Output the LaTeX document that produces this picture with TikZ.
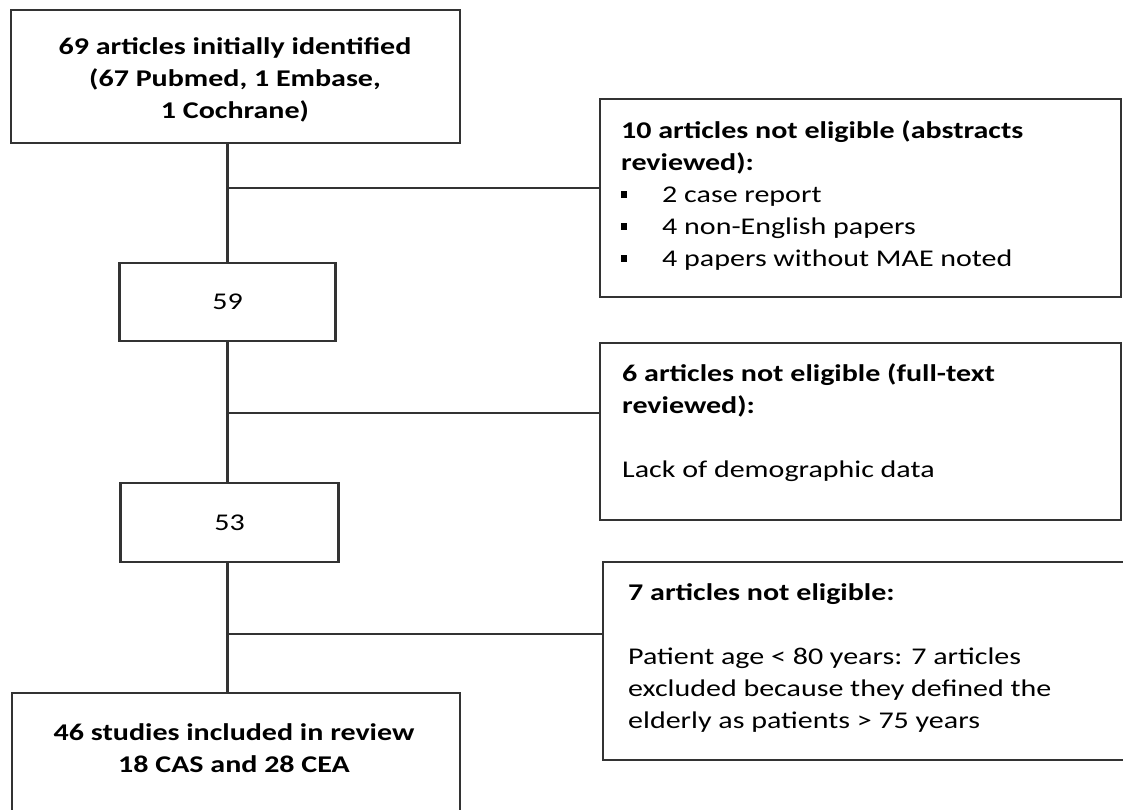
\documentclass[tikz,border=0pt]{standalone}
\usepackage{fontspec}
\setmainfont{Carlito}
\newfontfamily\flowfont[FakeStretch=1.25]{Carlito}
\usetikzlibrary{positioning}
\newcommand{\sqbul}{\makebox[41pt][l]{\rule[4pt]{6pt}{7pt}}}

\begin{document}
\begin{tikzpicture}[x=1pt,y=1pt]
\tikzstyle{every node}+=[inner sep=0pt]
\tikzstyle{box}=[draw=black!80, line width=2.8pt, rectangle]
\tikzstyle{link}=[draw=black!80, line width=2.5pt]
\tikzstyle{txt}=[anchor=north west, align=left, font=\fontsize{24}{32}\selectfont\flowfont]
\tikzstyle{mid}=[align=center, font=\fontsize{24}{32}\selectfont\flowfont\bfseries]
\useasboundingbox (0,0) rectangle (1123,-809);
\clip (0,0) rectangle (1123,-809);
\node [box, minimum width=449pt, minimum height=133pt] (top) at (235.5,-76.5) {};
\node [mid] (toptxt) at (235,-80) {69 articles initially identified\\(67 Pubmed, 1 Embase,\\1 Cochrane)};
\node [box, minimum width=216pt, minimum height=78pt, font=\fontsize{24}{32}\selectfont\flowfont] (n59) at (227.5,-302) {59};
\node [box, minimum width=218pt, minimum height=79pt, font=\fontsize{24}{32}\selectfont\flowfont] (n53) at (229.6,-522.5) {53};
\node [box, minimum width=448pt, minimum height=174pt] (final) at (236,-780) {};
\node [mid] (finaltxt) at (234,-748.5) {46 studies included in review\\18 CAS and 28 CEA};
\node [box, minimum width=521pt, minimum height=198pt] (ex1) at (860.5,-198) {};
\node [box, minimum width=521pt, minimum height=177pt] (ex2) at (860.5,-431.5) {};
\node [box, minimum width=574pt, minimum height=198pt] (ex3) at (890,-661) {};
\node [txt] (ex1txt) at (621,-120) {\textbf{10 articles not eligible (abstracts}\\\textbf{reviewed):}\\\sqbul 2 case report\\\sqbul 4 non-English papers\\\sqbul 4 papers without MAE noted};
\node [txt] (ex2txt) at (622,-363) {\textbf{6 articles not eligible (full-text}\\\textbf{reviewed):}\\[32pt]Lack of demographic data};
\node [txt] (ex3txt) at (628,-583) {\textbf{7 articles not eligible:}\\[32pt]Patient age < 80 years: 7 articles\\excluded because they defined the\\elderly as patients > 75 years};
\coordinate (b1) at (227,-188);
\coordinate (b2) at (227,-413);
\coordinate (b3) at (227,-634);
\draw [link] (top.south -| n59.north) -- (n59.north);
\draw [link] (n59.south) -- (n59.south |- n53.north);
\draw [link] (n59.south |- n53.south) -- (n59.south |- final.north);
\draw [link] (b1) -- (b1 -| ex1.west);
\draw [link] (b2) -- (b2 -| ex2.west);
\draw [link] (b3) -- (b3 -| ex3.west);
\end{tikzpicture}
\end{document}
